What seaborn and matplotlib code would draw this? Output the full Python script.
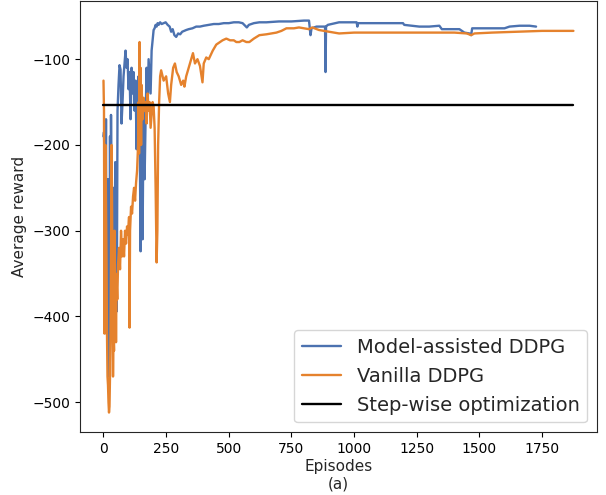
# Average reward per episode: model-assisted vs vanilla DDPG
import matplotlib
matplotlib.use('Agg')
import matplotlib.pyplot as plt
import pandas as pd
import seaborn as sns

# values
blue_ep = [0, 2, 4, 6, 8, 10, 12, 14, 16, 18, 20, 22, 24, 26, 28, 30, 33, 36, 40, 44,
           47, 50, 53, 56, 60, 64, 68, 72, 76, 80, 84, 88, 92, 96, 100, 104, 108, 112, 116, 120,
           124, 128, 132, 136, 140, 144, 148, 152, 156, 160, 164, 168, 172, 176, 180, 184, 188, 192, 196, 200,
           204, 208, 212, 216, 220, 226, 232, 240, 248, 256, 264, 270, 276, 283, 290, 298, 306, 314, 322, 330,
           340, 355, 370, 385, 400, 420, 440, 460, 480, 500, 520, 540, 555, 565, 572, 580, 600, 622, 650, 700,
           750, 800, 820, 823, 826, 830, 850, 875, 884, 886, 888, 895, 910, 940, 980, 1010, 1013, 1016, 1050, 1100,
           1150, 1195, 1200, 1230, 1260, 1300, 1340, 1350, 1380, 1420, 1440, 1460, 1467, 1471, 1500, 1550, 1600, 1620, 1660, 1700,
           1726]
blue_reward = [-190, -185, -215, -200, -300, -170, -420, -260, -380, -240, -470, -330, -440, -190, -350, -165, -300, -355, -250, -390,
               -220, -330, -394, -160, -130, -107, -112, -175, -150, -120, -105, -90, -110, -100, -135, -115, -170, -110, -140, -115,
               -160, -125, -205, -150, -120, -165, -324, -200, -310, -150, -240, -170, -110, -160, -100, -120, -140, -90, -78, -66,
               -64, -60, -62, -58, -60, -57, -59, -58, -57, -60, -62, -68, -65, -72, -74, -70, -71, -68, -67, -66,
               -65, -64, -62, -62, -61, -60, -59, -59, -58, -58, -57, -57, -58, -61, -63, -60, -58, -57, -57, -56,
               -56, -55, -55, -63, -72, -64, -62, -62, -62, -115, -62, -60, -59, -57, -57, -57, -62, -58, -58, -58,
               -58, -58, -60, -61, -62, -62, -61, -65, -65, -65, -69, -70, -72, -64, -64, -64, -64, -62, -61, -61,
               -62]

orange_ep = [0, 2, 4, 6, 8, 10, 12, 14, 16, 18, 20, 22, 24, 26, 28, 30, 32, 34, 36, 38,
             40, 42, 44, 46, 48, 50, 52, 55, 58, 62, 66, 70, 74, 78, 82, 86, 90, 94, 98, 102,
             104, 106, 110, 114, 118, 122, 126, 130, 134, 138, 140, 142, 144, 146, 148, 150, 152, 156, 160, 164,
             168, 172, 176, 180, 184, 188, 192, 196, 200, 204, 208, 212, 215, 218, 222, 226, 230, 240, 250, 258,
             265, 270, 278, 285, 292, 300, 310, 318, 323, 330, 340, 350, 357, 365, 375, 385, 395, 400, 410, 420,
             436, 450, 465, 475, 490, 505, 520, 530, 542, 555, 570, 582, 600, 622, 650, 690, 710, 730, 760, 780,
             800, 820, 833, 860, 900, 940, 1000, 1100, 1200, 1300, 1400, 1450, 1467, 1480, 1550, 1650, 1750, 1875]
orange_reward = [-125, -160, -420, -300, -200, -260, -330, -420, -470, -480, -500, -512, -505, -470, -420, -330, -200, -260, -380, -470,
                 -420, -440, -300, -400, -350, -430, -357, -380, -340, -320, -345, -300, -330, -310, -330, -300, -315, -295, -305, -284,
                 -413, -300, -272, -280, -260, -250, -265, -244, -230, -200, -150, -210, -80, -180, -110, -200, -130, -170, -145, -160,
                 -150, -175, -140, -160, -150, -180, -165, -150, -155, -180, -250, -337, -300, -200, -150, -120, -113, -125, -120, -140,
                 -150, -130, -110, -105, -115, -120, -130, -125, -132, -120, -110, -100, -93, -105, -100, -108, -127, -105, -98, -100,
                 -90, -83, -80, -78, -76, -78, -78, -80, -80, -78, -80, -80, -76, -72, -71, -69, -67, -64, -64, -63,
                 -64, -65, -63, -66, -68, -70, -69, -69, -69, -69, -69, -70, -72, -70, -69, -68, -67, -67]

stepwise_ep = [0, 1875]
stepwise_reward = [-154, -154]

labels = ['Model-assisted DDPG', 'Vanilla DDPG', 'Step-wise optimization']
colors = ['#4c72b0', '#e5822d', 'black']

sns.set_style('ticks')
plt.rcParams['font.family'] = ['DejaVu Sans']

fig, ax = plt.subplots(figsize=(6.06, 4.95), dpi=100)
fig.subplots_adjust(left=0.132, right=0.985, bottom=0.127, top=0.998)

series = [(blue_ep, blue_reward), (orange_ep, orange_reward), (stepwise_ep, stepwise_reward)]
for (x, y), lab, col in zip(series, labels, colors):
    sns.lineplot(x=x, y=y, ax=ax, color=col, label=lab, lw=1.7, sort=False, estimator=None)

ax.set_xticks([0, 250, 500, 750, 1000, 1250, 1500, 1750])
ax.set_yticks([-500, -400, -300, -200, -100])
ax.tick_params(labelsize=10, colors='black')
ax.set_xlabel('Episodes\n(a)', fontsize=11, labelpad=2)
ax.set_ylabel('Average reward', fontsize=11)
ax.legend(loc='lower right', fontsize=14, frameon=True)

plt.savefig('out.png', dpi=100)
